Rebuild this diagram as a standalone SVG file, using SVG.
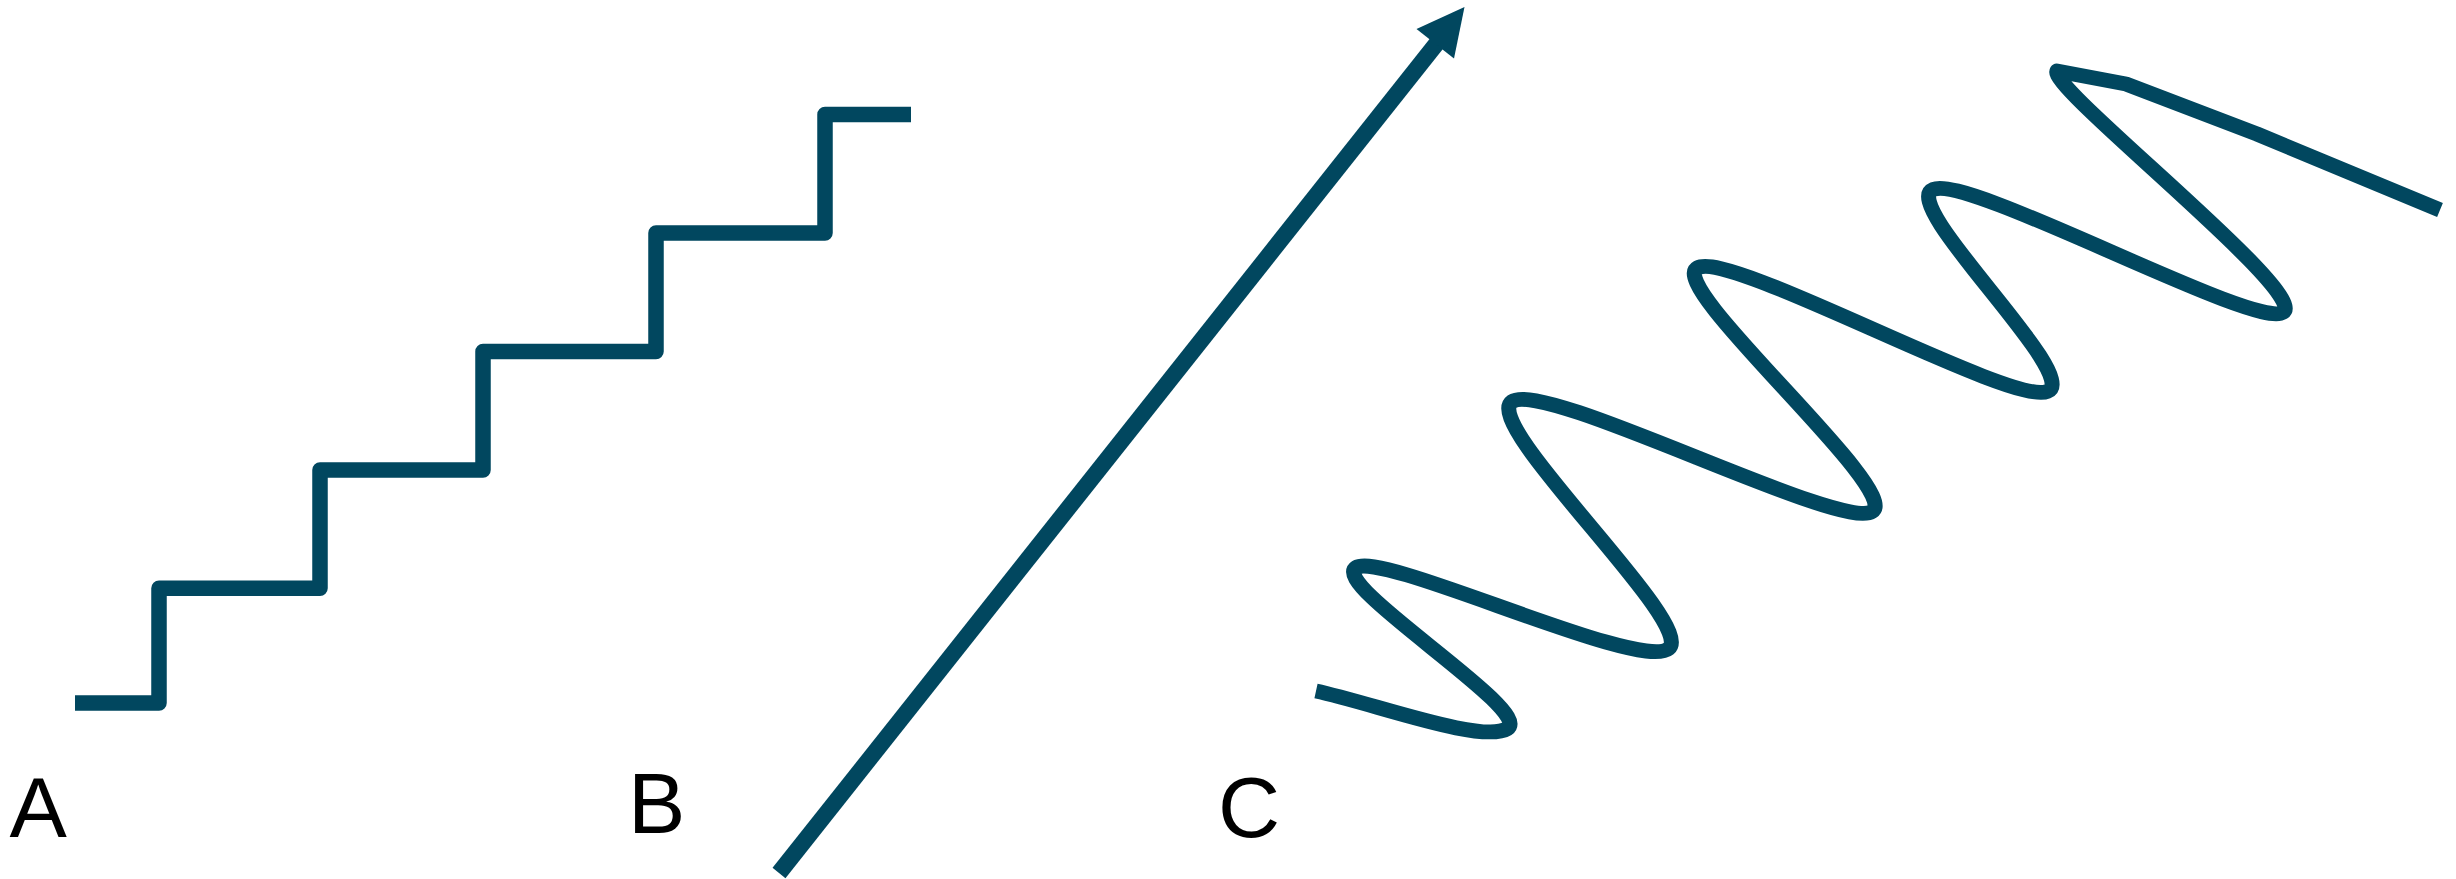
<svg xmlns="http://www.w3.org/2000/svg" width="2456" height="879" viewBox="0 0 2456 879">
<style>
.ln{fill:none;stroke:#01475f;stroke-linejoin:round;stroke-linecap:butt}
.lbl{font-family:"Liberation Sans",Arial,sans-serif;font-size:86px;fill:#000}
</style>
<rect width="2456" height="879" fill="#fff"/>
<g id="figure-a">
<path class="ln" stroke-width="15.5" d="M75 703 H159 V588.3 H320 V470 H483 V351.5 H656 V233 H825 V114.5 H911"/>
<text class="lbl" x="9.5" y="837">A</text>
</g>
<g id="figure-b">
<line class="ln" stroke-width="16.5" x1="779" y1="873" x2="1437" y2="43"/>
<polygon fill="#01475f" points="1464.5,7 1416.5,29 1454,58.5"/>
<text class="lbl" x="628" y="833">B</text>
</g>
<g id="figure-c">
<path class="ln" stroke-width="15" d="M1316 691 C1374.6 703.6 1482 744 1507.6 728.5 C1534.6 710.5 1329 584.7 1356 567.7 C1383 550.7 1639.7 672.5 1668.7 648.5 C1697.7 624.5 1480 424.7 1512 401.7 C1544 378.7 1841.3 532.4 1872.3 511.4 C1903.3 490.4 1664.5 285.9 1697.5 267.9 C1730.5 249.9 2011.4 406.4 2047.4 391.4 C2083.4 376.4 1897.3 204.4 1933.3 189.4 C1969.3 174.4 2255.1 330.3 2283.1 312.3 C2311.1 294.3 2047 87 2057 71 L2126 84 L2257 134 L2440 210"/>
<text class="lbl" x="1218" y="837">C</text>
</g>
</svg>
